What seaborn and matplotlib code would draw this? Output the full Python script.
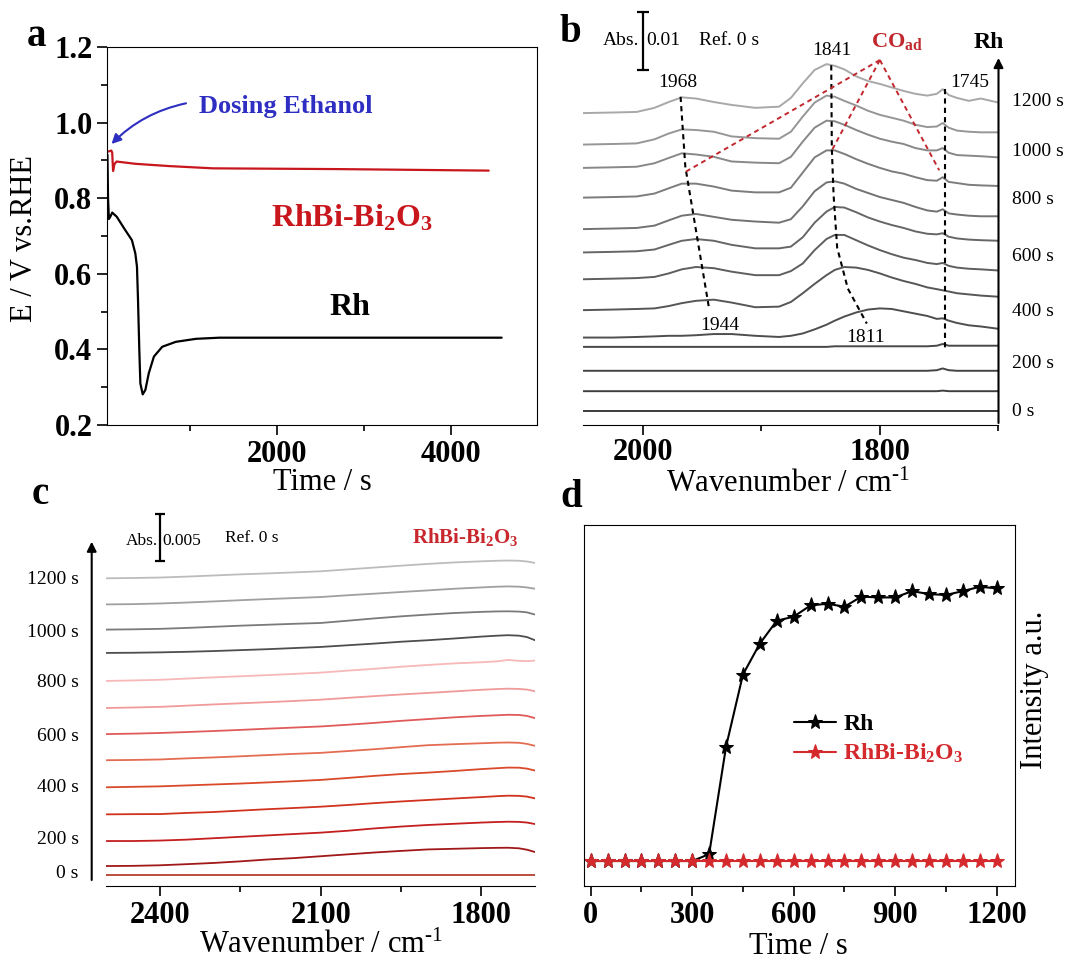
import matplotlib
matplotlib.use("Agg")
import matplotlib.pyplot as plt
import pandas as pd
import seaborn as sns

# ---------------- (a) potential transients after dosing ethanol ----------------
A_T_RH = [45, 52, 62, 80, 100, 152, 249, 327, 366, 385, 397, 412, 424, 451, 482,
          521, 580, 676, 832, 1065, 1337, 2500, 4583]
A_E_RH = [0.915, 0.800, 0.745, 0.752, 0.762, 0.751, 0.716, 0.689, 0.654, 0.619, 0.531,
          0.398, 0.310, 0.281, 0.293, 0.337, 0.381, 0.407, 0.420, 0.428, 0.431, 0.431, 0.431]
A_T_RHBI = [47, 90, 100, 110, 125, 150, 366, 754, 1259, 2698, 4434]
A_E_RHBI = [0.923, 0.926, 0.920, 0.872, 0.890, 0.897, 0.891, 0.885, 0.879, 0.877, 0.873]
A_XTICKS = [2000, 4000]
A_XTICKLABELS = ["2000", "4000"]
A_XMINOR = [1000, 3000]
A_YTICKS = [0.2, 0.4, 0.6, 0.8, 1.0, 1.2]
A_YTICKLABELS = ["0.2", "0.4", "0.6", "0.8", "1.0", "1.2"]
A_YMINOR = [0.3, 0.5, 0.7, 0.9, 1.1]

# ---------------- (b) in-situ IR spectra on Rh (absorbance, 1e-3) ----------------
B_WN = [2050, 2025, 2005, 1990, 1978, 1967, 1955, 1940, 1925, 1905, 1885, 1875, 1865,
        1855, 1845, 1838, 1830, 1820, 1810, 1800, 1790, 1780, 1770, 1760, 1752, 1747,
        1742, 1735, 1725, 1715, 1700]
B_TIMES = [0, 100, 200, 300, 400, 500, 600, 700, 800, 900, 1000, 1100, 1200]
B_OFFSETS = [0, 3.4, 6.9, 11.0, 12.6, 17.3, 22.6, 27.2, 31.2, 36.6, 41.7, 45.7, 51.1]
B_SPECTRA = [
    [0, 0, 0, 0, 0, 0, 0, 0, 0, 0, 0, 0, 0, 0, 0, 0, 0, 0, 0, 0, 0, 0, 0, 0, 0, 0, 0, 0, 0, 0, 0],
    [0, 0, 0, 0, 0, 0, 0, 0, 0, 0, 0, 0, 0, 0, 0, 0, 0, 0, 0, 0, 0, 0, 0, 0, 0, 0.1, 0, 0, 0, 0, 0],
    [0, 0, 0, 0, 0, 0, 0, 0, 0, 0, 0, 0, 0, 0, 0, 0, 0, 0, 0, 0, 0, 0, 0, 0, 0.1, 0.4, 0.1, 0, 0, 0, 0],
    [0, 0, 0, 0, 0, 0, 0, 0, 0, 0, 0, 0, 0, 0, 0, 0.1, 0.1, 0.1, 0.1, 0.1, 0.1, 0.1, 0.1, 0.1, 0.2, 0.5, 0.2, 0.2, 0.2, 0.2, 0.2],
    [0, 0, 0.1, 0.2, 0.3, 0.3, 0.4, 0.6, 0.6, 0.3, 0.1, 0.3, 0.7, 1.4, 2.2, 2.9, 3.6, 4.3, 4.8, 5.0, 4.9, 4.5, 4.1, 3.7, 3.2, 3.3, 2.9, 2.5, 2.1, 1.9, 1.5],
    [0, 0.1, 0.2, 0.3, 0.7, 1.2, 1.6, 1.8, 1.3, 0.5, 0.6, 1.4, 2.9, 4.5, 6.0, 6.9, 7.4, 7.3, 6.9, 6.3, 5.6, 5.0, 4.5, 3.9, 3.6, 3.4, 3.2, 2.9, 2.7, 2.5, 2.3],
    [0, 0.1, 0.2, 0.4, 1.0, 1.7, 2.1, 1.9, 1.3, 0.7, 0.7, 1.4, 2.7, 5.0, 6.9, 7.6, 7.6, 6.7, 5.8, 5.0, 4.3, 3.7, 3.3, 2.8, 2.6, 2.8, 2.3, 2.0, 1.8, 1.7, 1.5],
    [0, 0.1, 0.2, 0.5, 1.3, 2.0, 2.3, 2.0, 1.3, 0.7, 0.7, 1.0, 2.6, 5.1, 7.0, 7.8, 7.7, 6.9, 6.0, 5.3, 4.7, 4.2, 3.6, 3.2, 3.1, 3.3, 2.7, 2.4, 2.2, 2.1, 2.0],
    [0, 0.1, 0.2, 0.6, 1.5, 2.3, 2.6, 2.1, 1.6, 1.3, 1.1, 1.7, 3.9, 6.5, 8.0, 8.2, 7.8, 6.9, 6.2, 5.5, 5.0, 4.5, 3.8, 3.2, 3.0, 3.4, 2.7, 2.5, 2.3, 2.2, 2.2],
    [0, 0.1, 0.2, 0.7, 1.6, 2.4, 2.4, 1.9, 1.2, 0.9, 0.9, 1.7, 4.3, 6.9, 8.1, 8.1, 7.5, 6.6, 5.8, 5.1, 4.5, 4.1, 3.5, 3.0, 2.9, 3.5, 2.7, 2.5, 2.2, 2.1, 2.0],
    [0, 0.1, 0.2, 0.8, 1.7, 2.5, 2.3, 1.9, 1.1, 0.9, 0.8, 1.9, 4.5, 6.9, 8.1, 8.0, 7.4, 6.5, 5.7, 5.0, 4.5, 4.1, 3.4, 3.0, 3.0, 3.4, 2.6, 2.2, 2.1, 2.0, 1.8],
    [0, 0.1, 0.2, 0.9, 1.9, 2.6, 2.5, 2.2, 1.4, 1.1, 1.0, 2.2, 4.8, 7.2, 8.4, 8.2, 7.5, 6.7, 5.8, 5.1, 4.6, 4.1, 3.4, 3.0, 3.1, 3.7, 2.9, 2.4, 2.2, 2.1, 2.1],
    [0, 0.1, 0.2, 0.9, 1.9, 2.7, 2.5, 1.9, 1.4, 0.9, 1.1, 2.6, 5.1, 7.4, 8.4, 8.1, 7.5, 6.3, 5.5, 5.0, 4.4, 3.8, 3.3, 3.0, 3.3, 4.1, 3.1, 2.6, 2.1, 2.5, 1.8],
]
B_COLORS = ["#3c3c3c", "#404040", "#444444", "#484848", "#4e4e4e", "#565656", "#5e5e5e",
            "#666666", "#727272", "#7c7c7c", "#888888", "#969696", "#a8a8a8"]
B_XTICKS = [2000, 1800]
B_XTICKLABELS = ["2000", "1800"]
B_XMINOR = [1900, 1700]
B_TIME_LABELS = ["0 s", "200 s", "400 s", "600 s", "800 s", "1000 s", "1200 s"]
# peak guides: (wavenumber, stacked absorbance) following the labelled bands
B_GUIDE_1968 = ([1968, 1964, 1944], [53.9, 41.9, 17.6])
B_GUIDE_1841 = ([1841, 1840.5, 1839, 1836, 1827, 1811], [59.3, 45.0, 37.0, 28.0, 21.0, 15.0])
B_GUIDE_1745 = ([1745, 1745], [55.3, 10.6])
B_CO_APEX = (1800, 60.2)
B_CO_TARGETS = [(1964, 41.0), (1841, 44.5), (1750, 41.3)]

# ---------------- (c) in-situ IR spectra on RhBi-Bi2O3 (absorbance, 1e-3) ----------------
C_WN = [2500, 2450, 2400, 2350, 2300, 2250, 2200, 2150, 2100, 2050, 2000, 1950, 1900,
        1850, 1800, 1770, 1750, 1730, 1715, 1700]
C_TIMES = [0, 100, 200, 300, 400, 500, 600, 700, 800, 900, 1000, 1100, 1200]
C_OFFSETS = [0, 0.96, 3.64, 6.5, 9.4, 12.3, 15.1, 17.9, 20.8, 23.8, 26.3, 29.0, 31.8]
C_SPECTRA = [
    [0, 0, 0, 0, 0, 0, 0, 0, 0, 0, 0, 0, 0, 0, 0, 0, 0, 0, 0, 0],
    [0, 0.02, 0.08, 0.2, 0.33, 0.5, 0.7, 0.85, 1.05, 1.25, 1.45, 1.62, 1.78, 1.85, 1.92, 1.95, 1.96, 1.9, 1.75, 1.5],
    [0, 0.0, 0.05, 0.15, 0.3, 0.45, 0.6, 0.75, 0.9, 1.1, 1.35, 1.55, 1.72, 1.85, 1.98, 2.04, 2.07, 2.05, 1.98, 1.82],
    [0, 0.02, 0.03, 0.15, 0.25, 0.4, 0.55, 0.68, 0.82, 1.0, 1.2, 1.38, 1.54, 1.7, 1.85, 1.95, 2.0, 1.98, 1.9, 1.71],
    [0, 0.05, 0.1, 0.2, 0.3, 0.4, 0.52, 0.65, 0.79, 1.0, 1.22, 1.42, 1.57, 1.75, 1.95, 2.05, 2.11, 2.1, 2.0, 1.79],
    [0, 0.03, 0.08, 0.2, 0.3, 0.42, 0.55, 0.68, 0.79, 0.98, 1.18, 1.4, 1.61, 1.72, 1.82, 1.88, 1.9, 1.87, 1.75, 1.54],
    [0, 0.05, 0.12, 0.22, 0.33, 0.45, 0.58, 0.7, 0.82, 1.0, 1.2, 1.42, 1.61, 1.8, 1.95, 2.02, 2.07, 2.05, 1.95, 1.71],
    [0, 0.05, 0.12, 0.25, 0.38, 0.5, 0.62, 0.75, 0.89, 1.08, 1.27, 1.45, 1.61, 1.78, 1.95, 2.03, 2.07, 2.04, 1.97, 1.79],
    [0, 0.05, 0.12, 0.25, 0.38, 0.5, 0.62, 0.75, 0.89, 1.1, 1.3, 1.52, 1.71, 1.88, 2.0, 2.1, 2.25, 2.15, 2.12, 2.18],
    [0, 0.02, 0.06, 0.12, 0.2, 0.3, 0.4, 0.52, 0.64, 0.82, 1.0, 1.2, 1.36, 1.55, 1.75, 1.85, 1.9, 1.85, 1.7, 1.36],
    [0, 0.03, 0.08, 0.18, 0.3, 0.42, 0.52, 0.62, 0.71, 0.95, 1.2, 1.42, 1.61, 1.78, 1.9, 1.95, 1.96, 1.93, 1.85, 1.61],
    [0, 0.03, 0.1, 0.2, 0.32, 0.45, 0.57, 0.68, 0.79, 0.98, 1.15, 1.33, 1.5, 1.68, 1.82, 1.9, 1.93, 1.9, 1.82, 1.68],
    [0, 0.03, 0.08, 0.18, 0.3, 0.42, 0.52, 0.63, 0.75, 0.95, 1.15, 1.35, 1.54, 1.7, 1.82, 1.88, 1.9, 1.88, 1.8, 1.64],
]
C_COLORS = ["#b8402e", "#a01818", "#c41e1e", "#d0321e", "#da4a2a", "#e46c52", "#e05a5a",
            "#f09a9a", "#f6b8b8", "#4e4e4e", "#7a7a7a", "#a0a0a0", "#bcbcbc"]
C_XTICKS = [2400, 2100, 1800]
C_XTICKLABELS = ["2400", "2100", "1800"]
C_XMINOR = [2250, 1950]
C_TIME_LABELS = ["0 s", "200 s", "400 s", "600 s", "800 s", "1000 s", "1200 s"]

# ---------------- (d) CO_ad band intensity vs time ----------------
D_T = [0, 50, 100, 150, 200, 250, 300, 350, 400, 450, 500, 550, 600, 650, 700, 750,
       800, 850, 900, 950, 1000, 1050, 1100, 1150, 1200]
D_RH = [0, 0, 0, 0, 0, 0, 0, 0.025, 0.417, 0.680, 0.793, 0.876, 0.891, 0.932, 0.938,
        0.927, 0.964, 0.961, 0.961, 0.984, 0.973, 0.970, 0.984, 1.0, 0.994]
D_RHBI = [0, 0, 0, 0, 0, 0, 0, 0, 0, 0, 0, 0, 0, 0, 0, 0, 0, 0, 0, 0, 0, 0, 0, 0, 0]
D_XTICKS = [0, 300, 600, 900, 1200]
D_XTICKLABELS = ["0", "300", "600", "900", "1200"]
D_XMINOR = [150, 450, 750, 1050]

RED = "#c8161d"
RED_D = "#d42a2d"
BLUE = "#2e2ec2"

# ---------------- style ----------------
sns.set_style("ticks", rc={"axes.edgecolor": "black", "xtick.color": "black",
                           "ytick.color": "black", "text.color": "black",
                           "axes.labelcolor": "black", "axes.linewidth": 1.5})
plt.rcParams["font.family"] = ["Liberation Serif", "DejaVu Serif"]
plt.rcParams["mathtext.fontset"] = "custom"
plt.rcParams["mathtext.rm"] = "Liberation Serif"
plt.rcParams["mathtext.it"] = "Liberation Serif:italic"
plt.rcParams["mathtext.bf"] = "Liberation Serif:bold"

W, H = 1074, 961
fig = plt.figure(figsize=(W / 100, H / 100), dpi=100)


def box(x0, y0, x1, y1):
    return [x0 / W, 1 - y1 / H, (x1 - x0) / W, (y1 - y0) / H]


def ftext(x, y, s, **kw):
    fig.text(x / W, 1 - y / H, s, **kw)


def style_ticks(ax, pad=3.5):
    ax.tick_params(which="major", direction="out", length=7, width=1.2, pad=pad)
    ax.tick_params(which="minor", direction="out", length=4.5, width=1.2)


TICK_FONT = dict(fontweight="bold", fontsize=22)
LABEL_FONT = dict(fontsize=22)
WAVENUMBER = r"Wavenumber / cm$^{\text{-1}}$"

ax_a = fig.add_axes(box(107, 47, 537, 425))
ax_b = fig.add_axes(box(583.3, 5, 998.5, 425))
ax_c = fig.add_axes(box(106.4, 500, 535, 886))
ax_d = fig.add_axes(box(583.6, 525, 1015, 886))

# ---------------- panel a ----------------
sns.lineplot(x=A_T_RH, y=A_E_RH, color="black", lw=1.6, ax=ax_a)
sns.lineplot(x=A_T_RHBI, y=A_E_RHBI, color=RED, lw=1.6, ax=ax_a)
ax_a.set_xlim(40, 4990)
ax_a.set_ylim(0.2, 1.2)
ax_a.set_xticks(A_XTICKS, A_XTICKLABELS, **TICK_FONT)
ax_a.set_xticks(A_XMINOR, minor=True)
ax_a.set_yticks(A_YTICKS, A_YTICKLABELS, **TICK_FONT)
ax_a.set_yticks(A_YMINOR, minor=True)
style_ticks(ax_a)
ax_a.set_xlabel("Time / s", va="center", **LABEL_FONT)
ax_a.xaxis.set_label_coords(0.5, -0.153)
ax_a.set_ylabel("E / V vs.RHE", va="center", **LABEL_FONT)
ax_a.yaxis.set_label_coords(-0.191, 0.492)
ftext(286, 112.7, "Dosing Ethanol", color=BLUE, fontweight="bold", fontsize=19,
      ha="center", va="baseline")
ax_a.annotate("", xy=(111.5, H - 144), xytext=(186, H - 103.3), xycoords="figure pixels",
              arrowprops=dict(arrowstyle="-|>", color=BLUE, lw=1.5, mutation_scale=14,
                              connectionstyle="arc3,rad=0.15", shrinkA=0, shrinkB=0))
ftext(351.5, 226.7, r"RhBi-Bi$_\mathbf{2}$O$_\mathbf{3}$", color=RED, fontweight="bold",
      fontsize=23, ha="center", va="baseline")
ftext(349.7, 315, "Rh", color="black", fontweight="bold", fontsize=23, ha="center", va="baseline")

# ---------------- panel b ----------------
rows = []
for t, off, vals in zip(B_TIMES, B_OFFSETS, B_SPECTRA):
    for w, v in zip(B_WN, vals):
        rows.append({"time": f"{t} s", "wn": w, "absorb": v + off})
df_b = pd.DataFrame(rows)
order_b = [f"{t} s" for t in B_TIMES]
sns.lineplot(data=df_b, x="wn", y="absorb", hue="time", hue_order=order_b,
             palette=dict(zip(order_b, B_COLORS)), estimator=None, legend=False,
             lw=1.4, ax=ax_b)
ax_b.set_xlim(2050, 1700)
ax_b.set_ylim(-2.40, 69.64)
for side in ("left", "right", "top"):
    ax_b.spines[side].set_visible(False)
ax_b.set_yticks([])
ax_b.set_xticks(B_XTICKS, B_XTICKLABELS, **TICK_FONT)
ax_b.set_xticks(B_XMINOR, minor=True)
style_ticks(ax_b, pad=2)
ax_b.set_xlabel(WAVENUMBER, va="center", **LABEL_FONT)
ax_b.xaxis.set_label_coords(0.494, -0.142)
ax_b.set_ylabel("")

dash = dict(color="black", lw=1.5, linestyle=(0, (2.5, 2)))
for gx, gy in (B_GUIDE_1968, B_GUIDE_1841, B_GUIDE_1745):
    ax_b.plot(gx, gy, **dash, clip_on=False)
for tx, ty in B_CO_TARGETS:
    ax_b.plot([B_CO_APEX[0], tx], [B_CO_APEX[1], ty], color="#c0282d", lw=1.4,
              linestyle=(0, (2.5, 2)), clip_on=False)
ax_b.plot([2000, 2000], [58.5, 68.5], color="black", lw=1.6, marker="_", markersize=8,
          mew=1.6, clip_on=False)
ax_b.annotate("", xy=(1.0, (425 - 58) / 420), xytext=(1.0, (425 - 423) / 420),
              xycoords="axes fraction", annotation_clip=False,
              arrowprops=dict(arrowstyle="-|>", color="black", lw=1.5, mutation_scale=14,
                              shrinkA=0, shrinkB=0))
ann = dict(fontsize=14, va="baseline")
ftext(621, 45, "Abs.", ha="center", **ann)
ftext(646, 45, "0.01", ha="left", **ann)
ftext(728.6, 45, "Ref. 0 s", ha="center", **ann)
ftext(831.8, 55, "1841", ha="center", **ann)
ftext(678, 87.3, "1968", ha="center", **ann)
ftext(970, 87.3, "1745", ha="center", **ann)
ftext(720, 330, "1944", ha="center", **ann)
ftext(865.5, 341.7, "1811", ha="center", **ann)
ftext(897, 46.7, r"CO$_{\mathbf{ad}}$", color="#c0282d", fontweight="bold", fontsize=16,
      ha="center", va="baseline")
ftext(989, 48.3, "Rh", fontweight="bold", fontsize=17, ha="center", va="baseline")
for lab, y in zip(B_TIME_LABELS, [411.7, 363, 311.7, 256.7, 200, 151.7, 101.7]):
    ftext(1012, y, lab, fontsize=14, ha="left", va="center")

# ---------------- panel c ----------------
rows = []
for t, off, vals in zip(C_TIMES, C_OFFSETS, C_SPECTRA):
    for w, v in zip(C_WN, vals):
        rows.append({"time": f"{t} s", "wn": w, "absorb": v + off})
df_c = pd.DataFrame(rows)
order_c = [f"{t} s" for t in C_TIMES]
sns.lineplot(data=df_c, x="wn", y="absorb", hue="time", hue_order=order_c,
             palette=dict(zip(order_c, C_COLORS)), estimator=None, legend=False,
             lw=1.3, ax=ax_c)
ax_c.set_xlim(2500, 1700)
ax_c.set_ylim(-1.18, 40.19)
for side in ("left", "right", "top"):
    ax_c.spines[side].set_visible(False)
ax_c.set_yticks([])
ax_c.set_xticks(C_XTICKS, C_XTICKLABELS, **TICK_FONT)
ax_c.set_xticks(C_XMINOR, minor=True)
style_ticks(ax_c)
ax_c.set_xlabel(WAVENUMBER, va="center", **LABEL_FONT)
ax_c.xaxis.set_label_coords(0.5, -0.155)
ax_c.set_ylabel("")
ax_c.plot([2400, 2400], [33.65, 38.65], color="black", lw=1.6, marker="_", markersize=7,
          mew=1.6, clip_on=False)
ax_c.annotate("", xy=(91.7, H - 541.7), xytext=(91.7, H - 880), xycoords="figure pixels",
              arrowprops=dict(arrowstyle="-|>", color="black", lw=1.5, mutation_scale=14,
                              shrinkA=0, shrinkB=0))
annc = dict(fontsize=12.5, va="baseline")
ftext(142, 545, "Abs.", ha="center", **annc)
ftext(162.5, 545, "0.005", ha="left", **annc)
ftext(252, 541.7, "Ref. 0 s", ha="center", **annc)
ftext(465, 543.3, r"RhBi-Bi$_\mathbf{2}$O$_\mathbf{3}$", color="#c8282d", fontweight="bold",
      fontsize=15, ha="center", va="baseline")
for lab, y in zip(C_TIME_LABELS, [873.3, 839.3, 787.3, 736.7, 682.7, 632.7, 580]):
    ftext(78.6, y, lab, fontsize=14, ha="right", va="center")

# ---------------- panel d ----------------
sns.lineplot(x=D_T, y=D_RH, color="black", lw=1.5, marker="*", markersize=11,
             markeredgecolor="black", markerfacecolor="black", label="Rh", ax=ax_d)
sns.lineplot(x=D_T, y=D_RHBI, color=RED_D, lw=1.5, marker="*", markersize=11,
             markeredgecolor=RED_D, markerfacecolor=RED_D,
             label=r"RhBi-Bi$_\mathbf{2}$O$_\mathbf{3}$", ax=ax_d)
ax_d.set_xlim(-21, 1254)
ax_d.set_ylim(-0.091, 1.225)
ax_d.set_yticks([])
ax_d.set_xticks(D_XTICKS, D_XTICKLABELS, **TICK_FONT)
ax_d.set_xticks(D_XMINOR, minor=True)
style_ticks(ax_d)
ax_d.set_xlabel("Time / s", va="center", **LABEL_FONT)
ax_d.xaxis.set_label_coords(0.499, -0.168)
ax_d.yaxis.set_label_position("right")
ax_d.set_ylabel("Intensity a.u.", va="center", rotation=90, **LABEL_FONT)
ax_d.yaxis.set_label_coords(1.046, 0.543)
handles, labels = ax_d.get_legend_handles_labels()
leg = ax_d.legend(handles, labels, loc="upper left", bbox_to_anchor=(0.487, 0.478),
                  frameon=False, prop={"weight": "bold", "size": 17}, handlelength=1.8,
                  handletextpad=0.3, labelspacing=0.3, borderpad=0, borderaxespad=0)
for txt, col in zip(leg.get_texts(), ["black", RED_D]):
    txt.set_color(col)

# ---------------- panel letters ----------------
for letter, (x, y) in zip("abcd", [(37, 37), (570, 32), (40, 494), (571, 497)]):
    ftext(x, y, letter, fontsize=28, fontweight="bold", ha="center", va="center")

fig.savefig("out.png", dpi=100)
